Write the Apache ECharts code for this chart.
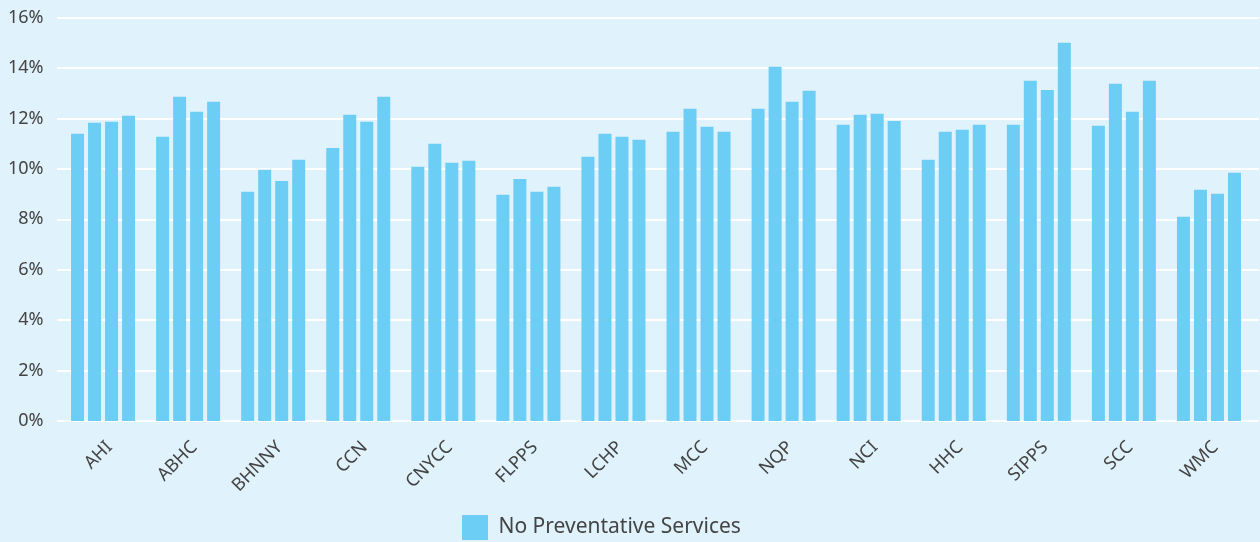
<!DOCTYPE html>
<html>
<head>
<meta charset="utf-8">
<script src="https://cdn.jsdelivr.net/npm/echarts@6/dist/echarts.min.js"></script>
<style>
html,body{margin:0;padding:0;background:#E0F2FB;}
#chart{width:1260px;height:542px;}
</style>
</head>
<body>
<div id="chart"></div>
<script>
const categories = ['AHI','ABHC','BHNNY','CCN','CNYCC','FLPPS','LCHP','MCC','NQP','NCI','HHC','SIPPS','SCC','WMC'];
const seriesName = 'No Preventative Services';
const values1 = [11.39, 11.27, 9.09, 10.83, 10.08, 8.97, 10.48, 11.47, 12.38, 11.75, 10.36, 11.75, 11.71, 8.10];
const values2 = [11.83, 12.86, 9.96, 12.14, 10.99, 9.60, 11.39, 12.38, 14.05, 12.14, 11.47, 13.49, 13.37, 9.17];
const values3 = [11.87, 12.26, 9.52, 11.87, 10.24, 9.09, 11.27, 11.67, 12.66, 12.18, 11.55, 13.13, 12.26, 9.01];
const values4 = [12.10, 12.66, 10.36, 12.86, 10.32, 9.29, 11.15, 11.47, 13.10, 11.90, 11.75, 15.00, 13.49, 9.84];
const yTicks = {min: 0, max: 16, interval: 2};

const barColor = '#6DCEF5';
const textColor = '#444444';
const font = '"Noto Sans", sans-serif';

const chart = echarts.init(document.getElementById('chart'), null, {renderer: 'canvas'});
const mk = (data) => ({
  name: seriesName,
  type: 'bar',
  data: data,
  xAxisIndex: 0,
  yAxisIndex: 0,
  barWidth: 13,
  barGap: '30.8%',
  itemStyle: {color: barColor},
  animation: false
});
chart.setOption({
  backgroundColor: '#E0F2FB',
  animation: false,
  grid: [
    {left: 60.5, right: 8.5, top: 17.5, bottom: 121},
    {left: 57, right: 1, top: 17.5, bottom: 121}
  ],
  legend: {
    data: [seriesName],
    left: 462,
    bottom: 2,
    padding: 0,
    itemWidth: 26,
    itemHeight: 25,
    icon: 'rect',
    formatter: (n) => ' ' + n,
    textStyle: {color: textColor, fontSize: 21, fontFamily: font}
  },
  xAxis: [{
    type: 'category',
    gridIndex: 0,
    data: categories,
    axisLine: {show: false},
    axisTick: {show: false},
    axisLabel: {rotate: 45, margin: 17, verticalAlign: 'top', color: textColor, fontSize: 18, fontFamily: font}
  }, {
    type: 'value',
    gridIndex: 1,
    show: false
  }],
  yAxis: [{
    type: 'value',
    gridIndex: 0,
    min: yTicks.min,
    max: yTicks.max,
    interval: yTicks.interval,
    axisLine: {show: false},
    axisTick: {show: false},
    axisLabel: {formatter: '{value}%', margin: 17, color: textColor, fontSize: 18, fontFamily: font},
    splitLine: {show: false}
  }, {
    type: 'value',
    gridIndex: 1,
    min: yTicks.min,
    max: yTicks.max,
    interval: yTicks.interval,
    axisLine: {show: false},
    axisTick: {show: false},
    axisLabel: {show: false},
    splitLine: {lineStyle: {color: '#FFFFFF', width: 2}}
  }],
  series: [mk(values1), mk(values2), mk(values3), mk(values4)]
});
</script>
</body>
</html>
